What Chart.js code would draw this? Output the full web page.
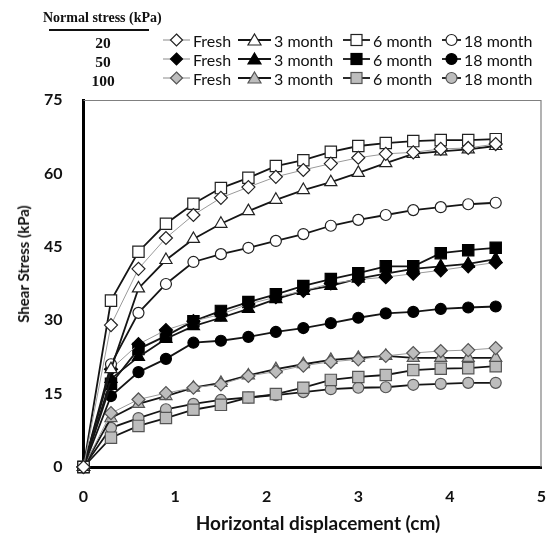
<!DOCTYPE html>
<html>
<head>
<meta charset="utf-8">
<script src="https://cdn.jsdelivr.net/npm/chart.js@4"></script>
<style>
  html, body { margin:0; padding:0; background:#fff; }
  #wrap { position:relative; width:551px; height:547px; overflow:hidden; }
  #c { position:absolute; left:0; top:0; }
  .ov { position:absolute; white-space:nowrap; pointer-events:none; color:#111; }
  .serif { font-family:"Liberation Serif","Times New Roman",serif; font-weight:bold; }
  .sans { font-family:Lato,"Liberation Sans",sans-serif; }
</style>
</head>
<body>
<div id="wrap">
  <canvas id="c" width="551" height="547"></canvas>
  <div class="ov serif" style="left:43px;top:9px;font-size:14px;line-height:18px;">Normal stress (kPa)</div>
  <div class="ov" style="left:49px;top:29px;width:100px;height:2px;background:#111;"></div>
  <div class="ov serif" style="left:103px;top:43px;font-size:15.5px;transform:translate(-50%,-50%);">20</div>
  <div class="ov serif" style="left:103px;top:62px;font-size:15.5px;transform:translate(-50%,-50%);">50</div>
  <div class="ov serif" style="left:103px;top:81px;font-size:15.5px;transform:translate(-50%,-50%);">100</div>
  <div id="legend"></div>
  <div class="ov sans" style="left:23px;top:264px;font-size:15px;font-weight:bold;transform:translate(-50%,-50%) rotate(-90deg);">Shear Stress (kPa)</div>
  <div class="ov sans" style="left:318px;top:522px;font-size:19px;font-weight:bold;transform:translate(-50%,-50%);">Horizontal displacement (cm)</div>
</div>
<script>
// ---- data ----
const xValues = [0, 0.3, 0.6, 0.9, 1.2, 1.5, 1.8, 2.1, 2.4, 2.7, 3.0, 3.3, 3.6, 3.9, 4.2, 4.5];
const xTicks = [0, 1, 2, 3, 4, 5];
const yTicks = [0, 15, 30, 45, 60, 75];
const normalStress = ["20", "50", "100"];
const ages = ["Fresh", "3 month", "6 month", "18 month"];

const fresh20  = [0, 29, 40.5, 46.8, 51.5, 55, 57.2, 59.3, 60.7, 62, 63.2, 64, 64.3, 65, 65.2, 66];
const month3_20  = [0, 20, 36.5, 42.3, 46.6, 49.7, 52.3, 54.6, 56.6, 58.2, 60.1, 62.1, 64, 64.5, 64.9, 65.6];
const month6_20  = [0, 34, 44, 49.7, 53.8, 57, 59.1, 61.5, 62.7, 64.4, 65.6, 66.2, 66.6, 66.8, 66.8, 67];
const month18_20 = [0, 21, 31.5, 37.4, 41.9, 43.5, 44.8, 46.2, 47.6, 49.3, 50.5, 51.5, 52.5, 53.1, 53.7, 54];

const fresh50  = [0, 20, 25.1, 28, 29.8, 31.2, 33.3, 34.7, 36, 37.5, 38.3, 38.8, 39.5, 40.2, 41, 41.8];
const month3_50  = [0, 18, 22.5, 26.2, 28.8, 30.5, 32.3, 34.3, 36, 37, 38.5, 39.5, 40.5, 41, 41.5, 42.5];
const month6_50  = [0, 17, 24.1, 26.8, 29.8, 31.9, 33.7, 35.3, 37, 38.4, 39.6, 41, 41, 43.7, 44.3, 44.8];
const month18_50 = [0, 14.5, 19.4, 22.1, 25.4, 25.8, 26.6, 27.6, 28.4, 29.4, 30.5, 31.4, 31.7, 32.3, 32.6, 32.8];

const fresh100  = [0, 11, 13.8, 15.1, 16.2, 16.9, 18.6, 19.5, 20.7, 21.5, 22, 22.7, 23.3, 23.7, 23.9, 24.3];
const month3_100  = [0, 10, 12.9, 14.5, 16.2, 17.2, 18.7, 20, 21, 21.9, 22.3, 22.7, 22.3, 22.3, 22.3, 22.3];
const month6_100  = [0, 6, 8.4, 10, 11.7, 12.7, 14.2, 14.9, 16.2, 17.8, 18.4, 18.8, 19.8, 20.1, 20.2, 20.6];
const month18_100 = [0, 8, 10, 11.8, 12.9, 13.7, 14.2, 14.7, 15.3, 15.9, 16.2, 16.3, 16.8, 17, 17.2, 17.2];

const seriesByStress = [
  [fresh20, month3_20, month6_20, month18_20],
  [fresh50, month3_50, month6_50, month18_50],
  [fresh100, month3_100, month6_100, month18_100]
];

// ---- styles ----
const fills = ["#ffffff", "#000000", "#bdbdbd"];
const strokes = ["#222222", "#000000", "#555555"];
const shapes = ["rectRot", "triangle", "rect", "circle"];
const radii = [6.5, 7, 8, 5.5];

const datasets = [];
seriesByStress.forEach((group, s) => {
  group.forEach((vals, a) => {
    const isFresh = a === 0;
    datasets.push({
      label: normalStress[s] + " kPa " + ages[a],
      data: xValues.map((x, i) => ({ x: x, y: vals[i] })),
      borderColor: isFresh ? "#9a9a9a" : "#151515",
      borderWidth: isFresh ? 1 : 1.8,
      backgroundColor: fills[s],
      pointBackgroundColor: fills[s],
      pointBorderColor: strokes[s],
      pointBorderWidth: 1.2,
      pointStyle: shapes[a],
      pointRadius: radii[a],
      pointHoverRadius: radii[a],
      tension: 0,
      clip: false,
      order: s * 4 + a
    });
  });
});

const frame = {
  id: "frame",
  beforeDatasetsDraw(chart) {
    const a = chart.chartArea, ctx = chart.ctx;
    ctx.save();
    ctx.strokeStyle = "#808080";
    ctx.lineWidth = 1.2;
    ctx.beginPath();
    ctx.moveTo(a.left, a.top + 0.5);
    ctx.lineTo(a.right - 0.5, a.top + 0.5);
    ctx.lineTo(a.right - 0.5, a.bottom);
    ctx.stroke();
    ctx.restore();
  }
};

new Chart(document.getElementById("c"), {
  type: "line",
  data: { datasets: datasets },
  options: {
    responsive: false,
    animation: false,
    events: [],
    layout: { padding: { left: 0, top: 100, right: 9.5, bottom: 0 } },
    plugins: { legend: { display: false }, tooltip: { enabled: false }, title: { display: false } },
    scales: {
      x: {
        type: "linear", min: 0, max: 5,
        afterFit(scale) { scale.height = 80; scale.paddingLeft = 0; scale.paddingRight = 0; },
        afterBuildTicks(scale) { scale.ticks = xTicks.map(v => ({ value: v })); },
        grid: { display: false, drawTicks: false },
        border: { display: true, color: "#000", width: 3 },
        ticks: { color: "#111", padding: 20, maxRotation: 0, font: { family: "Lato", weight: "bold", size: 16 } }
      },
      y: {
        type: "linear", min: 0, max: 75,
        afterFit(scale) { scale.width = 83.5; scale.paddingTop = 0; scale.paddingBottom = 0; },
        afterBuildTicks(scale) { scale.ticks = yTicks.map(v => ({ value: v })); },
        grid: { display: false, drawTicks: false },
        border: { display: true, color: "#000", width: 3 },
        ticks: { color: "#111", padding: 21, font: { family: "Lato", weight: "bold", size: 16 } }
      }
    }
  },
  plugins: [frame]
});

// ---- HTML legend built from the same labels / styles ----
const colLine = [163, 238, 343, 442];
const colText = [193, 274, 373, 464];
const rowY = [40, 59, 78];
const legend = document.getElementById("legend");
function markerSvg(shape, fill, stroke, lineColor, lineW, w) {
  const cx = w / 2, cy = 8;
  let m = "";
  if (shape === "rectRot") m = `<polygon points="${cx},${cy-6} ${cx+6},${cy} ${cx},${cy+6} ${cx-6},${cy}" fill="${fill}" stroke="${stroke}" stroke-width="1.2"/>`;
  else if (shape === "triangle") m = `<polygon points="${cx},${cy-6} ${cx+6.5},${cy+5} ${cx-6.5},${cy+5}" fill="${fill}" stroke="${stroke}" stroke-width="1.2"/>`;
  else if (shape === "rect") m = `<rect x="${cx-5.5}" y="${cy-5.5}" width="11" height="11" fill="${fill}" stroke="${stroke}" stroke-width="1.2"/>`;
  else m = `<circle cx="${cx}" cy="${cy}" r="5.5" fill="${fill}" stroke="${stroke}" stroke-width="1.2"/>`;
  return `<svg width="${w}" height="16" style="position:absolute;left:0;top:0"><line x1="0" y1="${cy}" x2="${w}" y2="${cy}" stroke="${lineColor}" stroke-width="${lineW}"/>${m}</svg>`;
}
normalStress.forEach((ns, s) => {
  ages.forEach((age, a) => {
    const isFresh = a === 0;
    const w = colText[a] - colLine[a] - 3;
    const box = document.createElement("div");
    box.className = "ov";
    box.style.left = colLine[a] + "px";
    box.style.top = (rowY[s] - 8) + "px";
    box.style.width = w + "px";
    box.style.height = "16px";
    box.innerHTML = markerSvg(shapes[a], fills[s], strokes[s], isFresh ? "#8a8a8a" : "#151515", isFresh ? 1 : 1.8, w);
    legend.appendChild(box);
    const t = document.createElement("div");
    t.className = "ov sans";
    t.style.left = colText[a] + "px";
    t.style.top = rowY[s] + "px";
    t.style.fontSize = "16px";
    t.style.transform = "translateY(-50%)";
    t.textContent = age;
    legend.appendChild(t);
  });
});
</script>
</body>
</html>
